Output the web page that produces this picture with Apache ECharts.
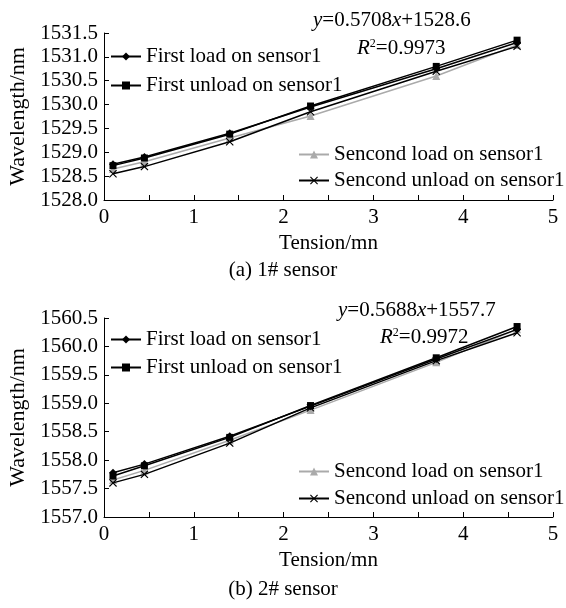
<!DOCTYPE html>
<html><head><meta charset="utf-8">
<script src="https://cdn.jsdelivr.net/npm/echarts@6/dist/echarts.min.js"></script>
<style>html,body{margin:0;padding:0;background:#fff}#c{width:566px;height:608px}</style>
</head><body><div id="c"></div>
<script>
const tension = [0.1, 0.45, 1.4, 2.3, 3.7, 4.6];
const names = ['First load on sensor1','First unload on sensor1','Sencond load on sensor1','Sencond unload on sensor1'];
const s1FirstLoad   = [1528.75, 1528.90, 1529.40, 1529.95, 1530.75, 1531.30];
const s1FirstUnload = [1528.72, 1528.88, 1529.38, 1529.97, 1530.80, 1531.35];
const s1SecondLoad  = [1528.65, 1528.80, 1529.30, 1529.76, 1530.60, 1531.25];
const s1SecondUnload= [1528.55, 1528.70, 1529.22, 1529.85, 1530.70, 1531.22];
const s2FirstLoad   = [1557.78, 1557.93, 1558.42, 1558.95, 1559.78, 1560.30];
const s2FirstUnload = [1557.72, 1557.90, 1558.40, 1558.96, 1559.80, 1560.35];
const s2SecondLoad  = [1557.65, 1557.82, 1558.35, 1558.88, 1559.72, 1560.30];
const s2SecondUnload= [1557.60, 1557.75, 1558.30, 1558.92, 1559.75, 1560.24];
const yTicks1 = [1528.0, 1531.5];
const yTicks2 = [1557.0, 1560.5];

const FONT = 'Liberation Serif';
const FS = 21;
const xPath = 'path://M1,0L5,4L9,0L10,1L6,5L10,9L9,10L5,6L1,10L0,9L4,5L0,1Z';
const styles = [
  {color:'#000', symbol:'diamond', size:8},
  {color:'#000', symbol:'rect', size:7},
  {color:'#aaa', symbol:'triangle', size:8},
  {color:'#000', symbol:xPath, size:8}
];
function mk(arr, idx, gi){
  const st = styles[idx];
  return {
    name: names[idx], type:'line', xAxisIndex:gi, yAxisIndex:gi,
    data: tension.map((t,i)=>[t, arr[i]]),
    symbol: st.symbol, symbolSize: st.size, showSymbol:true,
    lineStyle:{color:st.color, width:1.5},
    itemStyle:{color:st.color},
    z: idx===2 ? 1 : 2
  };
}
function xAxis(gi){
  return {type:'value', gridIndex:gi, min:0, max:5, interval:1,
    name:'Tension/mn', nameLocation:'middle', nameGap:33,
    nameTextStyle:{fontFamily:FONT, fontSize:FS, color:'#000'},
    axisLine:{show:true, lineStyle:{color:'#000', width:1}},
    axisTick:{show:true, inside:true, length:5, lineStyle:{color:'#000'}},
    minorTick:{show:true, splitNumber:2, length:5, lineStyle:{color:'#000'}},
    axisLabel:{fontFamily:FONT, fontSize:FS, color:'#000', margin:7},
    splitLine:{show:false}, minorSplitLine:{show:false}};
}
function yAxis(gi, r){
  return {type:'value', gridIndex:gi, min:r[0], max:r[1], interval:0.5,
    name:'Wavelength/nm', nameLocation:'middle', nameGap:72, nameRotate:90,
    nameTextStyle:{fontFamily:FONT, fontSize:22, color:'#000'},
    axisLine:{show:true, lineStyle:{color:'#000', width:1}},
    axisTick:{show:true, inside:true, length:5, lineStyle:{color:'#000'}},
    axisLabel:{fontFamily:FONT, fontSize:FS, color:'#000', margin:6, formatter:v=>v.toFixed(1)},
    splitLine:{show:false}};
}
function legend(nm, left, top){
  return {data:[nm], left:left, top:top, orient:'vertical', itemWidth:30, itemHeight:10, itemGap:4, padding:0,
    textStyle:{fontFamily:FONT, fontSize:FS, color:'#000'}, selectedMode:false};
}
const rich = {
  i:{fontFamily:FONT, fontSize:FS, fontStyle:'italic', fontWeight:'normal', color:'#000'},
  n:{fontFamily:FONT, fontSize:FS, fontWeight:'normal', color:'#000'},
  s:{fontFamily:FONT, fontSize:12, fontWeight:'normal', color:'#000', verticalAlign:'top', padding:[0,0,9,0]}
};
const chart = echarts.init(document.getElementById('c'));
chart.setOption({
  animation:false,
  grid:[{left:104, top:33, width:449, height:167, outerBoundsMode:'none', containLabel:false},
        {left:104, top:318, width:449, height:199, outerBoundsMode:'none', containLabel:false}],
  xAxis:[xAxis(0), xAxis(1)],
  yAxis:[yAxis(0, yTicks1), yAxis(1, yTicks2)],
  legend:[
    legend(names[0], 110, 46), legend(names[1], 110, 75),
    legend(names[2], 298, 144), legend(names[3], 298, 170),
    legend(names[0], 110, 329), legend(names[1], 110, 357),
    legend(names[2], 298, 461), legend(names[3], 298, 488)
  ],
  title:[
    {text:'{i|y}{n|=0.5708}{i|x}{n|+1528.6}', left:308, top:5, textStyle:{rich:rich}},
    {text:'{i|R}{s|2}{n|=0.9973}', left:352, top:33, textStyle:{rich:rich}},
    {text:'{i|y}{n|=0.5688}{i|x}{n|+1557.7}', left:333, top:295, textStyle:{rich:rich}},
    {text:'{i|R}{s|2}{n|=0.9972}', left:375, top:322, textStyle:{rich:rich}},
    {text:'(a) 1# sensor', left:'center', top:255, textStyle:{fontFamily:FONT, fontSize:FS, fontWeight:'normal', color:'#000'}},
    {text:'(b) 2# sensor', left:'center', top:574, textStyle:{fontFamily:FONT, fontSize:FS, fontWeight:'normal', color:'#000'}}
  ],
  series:[
    mk(s1SecondLoad,2,0), mk(s1FirstLoad,0,0), mk(s1FirstUnload,1,0), mk(s1SecondUnload,3,0),
    mk(s2SecondLoad,2,1), mk(s2FirstLoad,0,1), mk(s2FirstUnload,1,1), mk(s2SecondUnload,3,1)
  ]
});
</script></body></html>
